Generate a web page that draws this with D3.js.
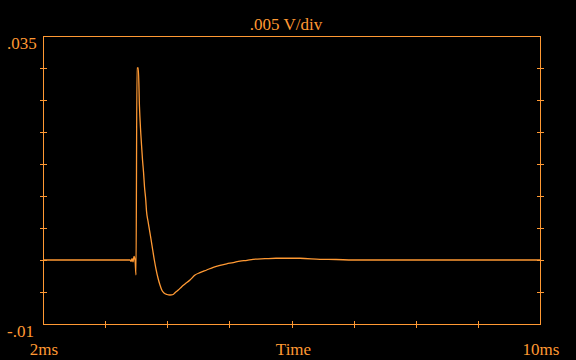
<!DOCTYPE html>
<html>
<head>
<meta charset="utf-8">
<script src="https://cdn.jsdelivr.net/npm/d3@7"></script>
<style>
html,body{margin:0;padding:0;background:#000;}
svg{display:block;}
text{font-family:"Liberation Serif","DejaVu Serif",serif;fill:#ff9933;}
</style>
</head>
<body>
<svg id="chart" width="576" height="360"></svg>
<script>
// Data: time (ms) and voltage (V)
const timeMs = [2.000,3.400,3.417,3.433,3.449,3.465,3.481,3.497,3.513,3.534,3.553,3.569,3.586,3.602,3.618,3.634,3.654,3.666,3.690,3.714,3.738,3.766,3.792,3.819,3.851,3.883,3.916,3.948,3.996,4.044,4.097,4.125,4.178,4.233,4.286,4.366,4.447,4.527,4.635,4.741,4.849,4.957,5.063,5.171,5.284,5.380,5.574,5.750,6.137,6.459,6.717,6.990,7.747,10.000];
const volts  = [0,0,-0.00023,0.00023,-0.0003,0.00055,0,-0.00234,0.030,0.030,0.02391,0.02063,0.01797,0.01563,0.01375,0.01141,0.00938,0.00766,0.00609,0.00469,0.00328,0.00156,0,-0.00141,-0.00281,-0.00391,-0.00477,-0.00516,-0.00539,-0.00547,-0.00539,-0.00511,-0.00469,-0.00417,-0.00375,-0.00313,-0.00234,-0.00198,-0.00156,-0.00114,-0.00083,-0.00060,-0.00040,-0.00016,-0.00005,0.00011,0.00020,0.00027,0.00027,0.00011,0.00008,0.0000,0.0000,0.0000];
const xTicks = [3,4,5,6,7,8,9];
const yTicks = [-0.005,0,0.005,0.010,0.015,0.020,0.025,0.030];
const xDomain = [2,10];
const yDomain = [-0.01,0.035];
const xLabels = ["2ms","Time","10ms"];
const yLabels = [".035","-.01"];
const title = ".005 V/div";

const C = "#ff9933";
const svg = d3.select("#chart");
const L = 43, R = 540, T = 36, B = 324;
const x = d3.scaleLinear().domain(xDomain).range([L,R]);
const y = d3.scaleLinear().domain(yDomain).range([B,T]);

// frame
svg.append("rect").attr("x",L+0.5).attr("y",T+0.5).attr("width",R-L).attr("height",B-T)
  .attr("fill","none").attr("stroke",C).attr("stroke-width",1).attr("shape-rendering","crispEdges");

function tickAxis(g){ g.select(".domain").remove(); g.selectAll(".tick line").attr("stroke",C).attr("shape-rendering","crispEdges"); g.selectAll(".tick text").remove(); }
svg.append("g").attr("transform",`translate(${L+4},0)`).call(d3.axisLeft(y).tickValues(yTicks).tickSize(7).tickFormat("")).call(tickAxis);
svg.append("g").attr("transform",`translate(${R+4},0)`).call(d3.axisLeft(y).tickValues(yTicks).tickSize(7).tickFormat("")).call(tickAxis);
svg.append("g").attr("transform",`translate(0,${B-3})`).call(d3.axisBottom(x).tickValues(xTicks).tickSize(7).tickFormat("")).call(tickAxis);

// trace
const pts = timeMs.map((t,i)=>[t,volts[i]]);
svg.append("path").datum(pts)
  .attr("d", d3.line().x(d=>x(d[0])).y(d=>y(d[1])).curve(d3.curveMonotoneX))
  .attr("fill","none").attr("stroke",C).attr("stroke-width",1.3).attr("stroke-linejoin","round");

// labels
const fs = "17px";
svg.append("text").attr("x",7).attr("y",49).attr("font-size",fs).text(yLabels[0]);
svg.append("text").attr("x",7).attr("y",337).attr("font-size",fs).text(yLabels[1]);
svg.append("text").attr("x",x(xDomain[0])+1).attr("y",355).attr("text-anchor","middle").attr("font-size",fs).text(xLabels[0]);
svg.append("text").attr("x",(L+R)/2+2).attr("y",355).attr("text-anchor","middle").attr("font-size",fs).text(xLabels[1]);
svg.append("text").attr("x",x(xDomain[1])+1).attr("y",355).attr("text-anchor","middle").attr("font-size",fs).text(xLabels[2]);
svg.append("text").attr("x",286).attr("y",30).attr("text-anchor","middle").attr("font-size",fs).text(title);
</script>
</body>
</html>
